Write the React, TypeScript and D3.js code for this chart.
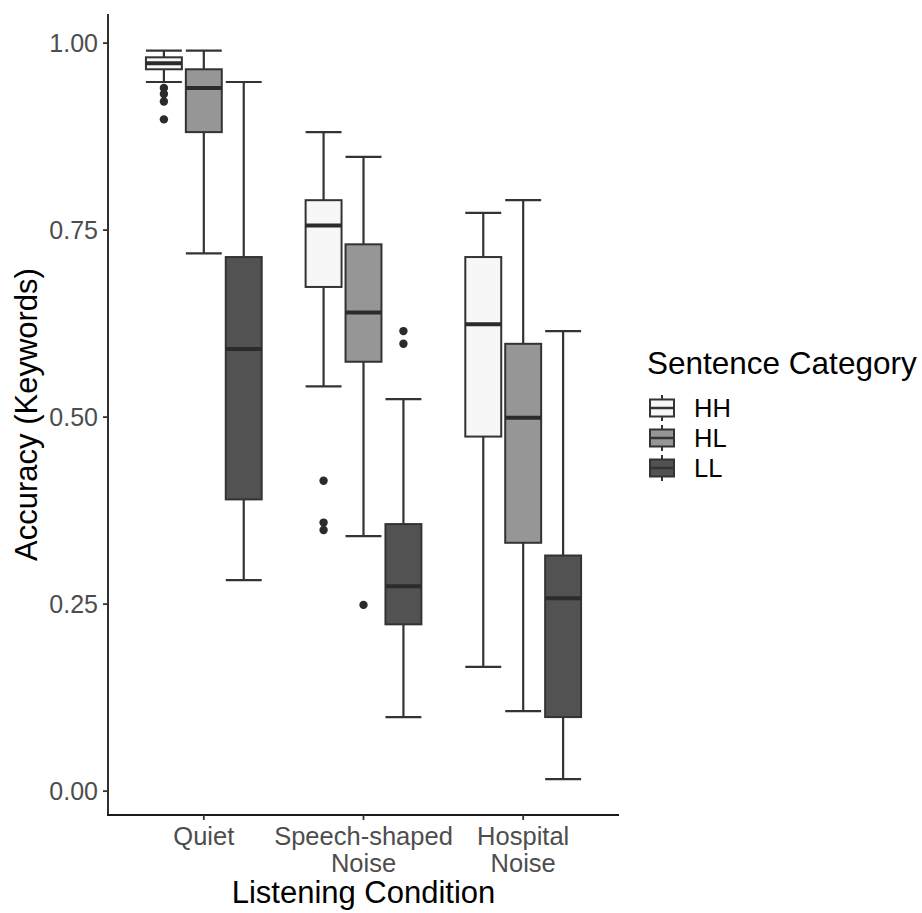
import * as React from "react";
import * as d3 from "d3";

// listening conditions on the x axis (second line after the \n)
const conditions = ["Quiet", "Speech-shaped\nNoise", "Hospital\nNoise"];
const categories = ["HH", "HL", "LL"];
const fills = ["#f7f7f7", "#969696", "#525252"];

// [lower whisker, q1, median, q3, upper whisker] per condition
const statsHH = [
  [0.948, 0.965, 0.973, 0.981, 0.99],
  [0.541, 0.674, 0.756, 0.79, 0.881],
  [0.166, 0.474, 0.624, 0.714, 0.773],
];
const statsHL = [
  [0.719, 0.881, 0.94, 0.965, 0.99],
  [0.341, 0.574, 0.64, 0.731, 0.848],
  [0.107, 0.332, 0.499, 0.598, 0.79],
];
const statsLL = [
  [0.282, 0.39, 0.591, 0.714, 0.948],
  [0.099, 0.223, 0.274, 0.357, 0.524],
  [0.016, 0.099, 0.258, 0.315, 0.615],
];

// outliers: [condition index, value]
const outHH = [[0, 0.94], [0, 0.932], [0, 0.922], [0, 0.898], [1, 0.415], [1, 0.359], [1, 0.349]];
const outHL = [[1, 0.249]];
const outLL = [[1, 0.615], [1, 0.598]];

const yTicks = [0, 0.25, 0.5, 0.75, 1];

const stats = [statsHH, statsHL, statsLL];
const outliers = [outHH, outHL, outLL];

export default function App() {
  const width = 922;
  const height = 913;
  const panel = { left: 108, right: 619, top: 14, bottom: 815 };
  const font = "'Liberation Sans', Arial, Helvetica, sans-serif";

  const y = d3.scaleLinear().domain([-0.0319, 1.0389]).range([panel.bottom, panel.top]);
  const x = d3.scalePoint().domain(conditions).range([panel.left, panel.right]).padding(0.6);
  const dodge = d3.scaleBand().domain(categories).range([-0.375 * x.step(), 0.375 * x.step()]);
  const boxW = dodge.bandwidth() * 0.9;
  const line = "#333333";

  return (
    <svg width={width} height={height} style={{ position: "absolute", left: 0, top: 0, background: "#fff" }} fontFamily={font}>
      {/* boxes */}
      {categories.map((cat, g) =>
        conditions.map((cond, c) => {
          const [lo, q1, med, q3, hi] = stats[g][c];
          const cx = (x(cond) as number) + (dodge(cat) as number) + dodge.bandwidth() / 2;
          return (
            <g key={cat + c}>
              <line x1={cx} x2={cx} y1={y(hi)} y2={y(q3)} stroke={line} strokeWidth={2.2} />
              <line x1={cx} x2={cx} y1={y(q1)} y2={y(lo)} stroke={line} strokeWidth={2.2} />
              <line x1={cx - boxW / 2} x2={cx + boxW / 2} y1={y(hi)} y2={y(hi)} stroke={line} strokeWidth={2.2} />
              <line x1={cx - boxW / 2} x2={cx + boxW / 2} y1={y(lo)} y2={y(lo)} stroke={line} strokeWidth={2.2} />
              <rect x={cx - boxW / 2} y={y(q3)} width={boxW} height={y(q1) - y(q3)} fill={fills[g]} stroke={line} strokeWidth={2} />
              <line x1={cx - boxW / 2} x2={cx + boxW / 2} y1={y(med)} y2={y(med)} stroke="#2b2b2b" strokeWidth={4} />
            </g>
          );
        })
      )}
      {categories.map((cat, g) =>
        outliers[g].map(([c, v], i) => (
          <circle key={cat + "o" + i}
            cx={(x(conditions[c]) as number) + (dodge(cat) as number) + dodge.bandwidth() / 2}
            cy={y(v)} r={4.2} fill="#2b2b2b" />
        ))
      )}

      {/* axes */}
      <line x1={panel.left} x2={panel.left} y1={panel.top} y2={panel.bottom + 1} stroke="#1a1a1a" strokeWidth={1.8} />
      <line x1={panel.left - 1} x2={panel.right} y1={panel.bottom} y2={panel.bottom} stroke="#1a1a1a" strokeWidth={1.8} />
      {yTicks.map(t => (
        <g key={"y" + t}>
          <line x1={panel.left - 5} x2={panel.left} y1={y(t)} y2={y(t)} stroke="#333" strokeWidth={1.8} />
          <text x={panel.left - 10} y={y(t)} dy="0.35em" textAnchor="end" fontSize={25} fill="#4d4d4d">
            {d3.format(".2f")(t)}
          </text>
        </g>
      ))}
      {conditions.map(cond => (
        <g key={cond}>
          <line x1={x(cond)} x2={x(cond)} y1={panel.bottom} y2={panel.bottom + 5} stroke="#333" strokeWidth={1.8} />
          <text x={x(cond)} y={845} textAnchor="middle" fontSize={25.5} fill="#4d4d4d">
            {cond.split("\n").map((part, i) => (
              <tspan key={i} x={x(cond)} dy={i === 0 ? 0 : 27}>{part}</tspan>
            ))}
          </text>
        </g>
      ))}
      <text x={(panel.left + panel.right) / 2} y={903} textAnchor="middle" fontSize={31} fill="#000">
        Listening Condition
      </text>
      <text transform={`translate(37,${(panel.top + panel.bottom) / 2}) rotate(-90)`} textAnchor="middle" fontSize={31} fill="#000">
        Accuracy (Keywords)
      </text>

      {/* legend */}
      <text x={647} y={374} fontSize={31.5} fill="#000">Sentence Category</text>
      {categories.map((cat, g) => {
        const mid = 408 + g * 30;
        const kx = 648;
        const kw = 28;
        const cx = kx + kw / 2;
        return (
          <g key={"leg" + cat}>
            <line x1={cx} x2={cx} y1={mid - 13} y2={mid + 13} stroke={line} strokeWidth={2} />
            <rect x={kx + 2} y={mid - 8.5} width={kw - 4} height={17} fill={fills[g]} stroke={line} strokeWidth={2} />
            <line x1={kx + 2} x2={kx + kw - 2} y1={mid} y2={mid} stroke={line} strokeWidth={2.5} />
            <text x={694} y={mid} dy="0.36em" fontSize={25.5} fill="#000">{cat}</text>
          </g>
        );
      })}
    </svg>
  );
}
